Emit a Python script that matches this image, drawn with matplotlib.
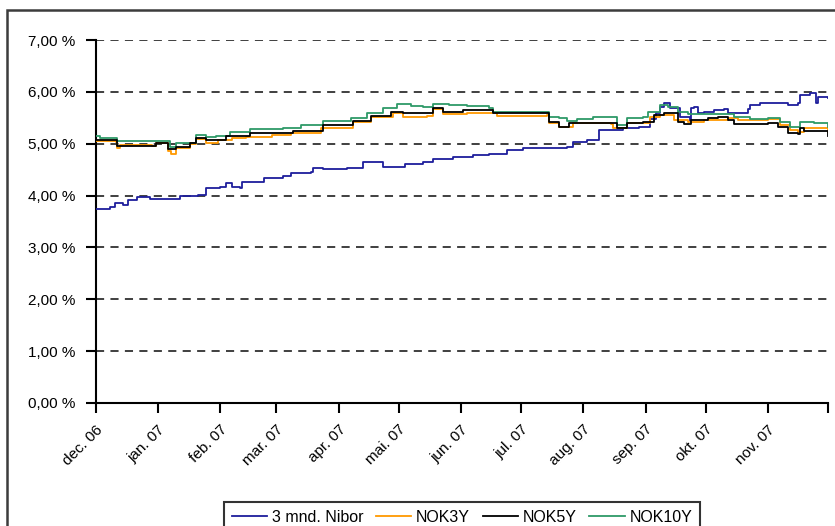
import datetime as dt
import matplotlib
matplotlib.use("Agg")
import matplotlib.pyplot as plt
from matplotlib.patches import Rectangle

plt.rcParams['font.family'] = ['Liberation Sans', 'DejaVu Sans']

# day offsets from 1 Dec 2006 and rates in %
nibor_days = [0, 7, 9.5, 13, 13.5, 16, 20.5, 26, 27, 38, 42, 51, 55, 62, 65, 68, 72, 73, 82, 84,
              93, 97, 107, 108, 113, 125, 133, 137, 143, 153, 154, 163, 168, 178, 183, 188, 196, 205,
              210, 213, 225, 235, 238, 245, 251, 260, 263, 271, 276, 279, 281, 283, 286, 291, 296,
              296.5, 298, 300, 303, 308, 313, 315, 325, 326, 331, 345, 350, 351, 356, 359, 360, 365]
nibor = [3.74, 3.78, 3.86, 3.86, 3.82, 3.91, 3.97, 3.97, 3.93, 3.93, 3.99, 4.01, 4.15, 4.17, 4.24,
         4.17, 4.15, 4.26, 4.26, 4.34, 4.38, 4.43, 4.45, 4.53, 4.51, 4.53, 4.65, 4.65, 4.55, 4.55,
         4.61, 4.65, 4.70, 4.74, 4.74, 4.78, 4.80, 4.88, 4.88, 4.92, 4.92, 4.94, 5.03, 5.07, 5.26,
         5.26, 5.30, 5.32, 5.48, 5.60, 5.71, 5.78, 5.69, 5.51, 5.44, 5.69, 5.71, 5.59, 5.61, 5.65,
         5.67, 5.59, 5.67, 5.75, 5.78, 5.75, 5.78, 5.94, 5.98, 5.78, 5.90, 5.88]

nok3_days = [0, 10, 10.5, 12, 28, 30, 36, 37.5, 40, 47, 50, 55, 61, 68, 75, 88, 97, 112, 128, 137,
             148, 153, 165, 168, 173, 185, 200, 225, 226, 231, 238, 257, 258, 265, 276, 281, 288,
             295, 303, 315, 320, 335, 341, 346, 350, 353, 361, 365]
nok3 = [5.05, 5.03, 4.92, 4.98, 4.96, 5.01, 4.86, 4.80, 4.92, 4.99, 5.09, 5.01, 5.07, 5.11, 5.13,
        5.17, 5.21, 5.30, 5.42, 5.51, 5.59, 5.51, 5.53, 5.67, 5.57, 5.59, 5.53, 5.55, 5.40, 5.32,
        5.40, 5.38, 5.30, 5.40, 5.51, 5.55, 5.46, 5.42, 5.46, 5.50, 5.46, 5.48, 5.36, 5.26, 5.23,
        5.30, 5.30, 5.23]

nok5_days = [0, 10.5, 28, 30, 36, 38, 40, 47, 50, 55, 65, 77, 93, 98, 113, 128, 137, 147, 153, 166,
             168, 173, 183, 198, 225, 226, 231, 236, 255, 260, 265, 273, 278, 283, 290, 293, 296.5,
             305, 310, 315, 318, 335, 340, 345, 350, 351, 353, 361, 365]
nok5 = [5.07, 4.96, 4.96, 5.01, 4.90, 4.90, 4.94, 5.01, 5.11, 5.07, 5.15, 5.21, 5.21, 5.25, 5.36,
        5.44, 5.53, 5.61, 5.59, 5.59, 5.69, 5.61, 5.65, 5.59, 5.59, 5.42, 5.32, 5.40, 5.40, 5.30,
        5.40, 5.42, 5.55, 5.59, 5.42, 5.38, 5.46, 5.50, 5.51, 5.46, 5.38, 5.40, 5.32, 5.21, 5.19,
        5.30, 5.25, 5.25, 5.15]

nok10_days = [0, 2, 9.5, 10.5, 30, 37, 40, 47, 50, 55, 60, 67, 77, 83, 93, 102, 113, 127, 135, 143,
              150, 157, 163, 168, 176, 185, 196, 198, 225, 226, 231, 235, 240, 248, 255, 260, 265,
              273, 275, 281, 285, 290, 295, 315, 318, 326, 335, 341, 346, 350, 351, 358, 365]
nok10 = [5.15, 5.11, 5.11, 5.05, 5.05, 4.94, 5.01, 5.01, 5.17, 5.13, 5.15, 5.23, 5.28, 5.28, 5.30,
         5.36, 5.44, 5.50, 5.59, 5.69, 5.77, 5.73, 5.71, 5.77, 5.75, 5.73, 5.69, 5.61, 5.61, 5.51,
         5.50, 5.44, 5.48, 5.51, 5.51, 5.36, 5.50, 5.51, 5.61, 5.75, 5.71, 5.61, 5.57, 5.57, 5.51,
         5.48, 5.50, 5.42, 5.32, 5.32, 5.42, 5.40, 5.32]

month_labels = ['dec. 06', 'jan. 07', 'feb. 07', 'mar. 07', 'apr. 07', 'mai. 07', 'jun. 07',
                'jul. 07', 'aug. 07', 'sep. 07', 'okt. 07', 'nov. 07', '']
y_labels = ['0,00 %', '1,00 %', '2,00 %', '3,00 %', '4,00 %', '5,00 %', '6,00 %', '7,00 %']


def to_dates(days):
    return [dt.datetime(2006, 12, 1) + dt.timedelta(days=d) for d in days]


fig = plt.figure(figsize=(8.35, 5.26), dpi=100)
ax = fig.add_axes([96/835, 1-403/526, 732/835, 363/526])

# outer frame of the original chart object
fig.patches.append(Rectangle((7/835, -0.2), 1.2, 1-10/526+0.2, transform=fig.transFigure,
                             fill=False, edgecolor='#3c3c3c', lw=1.8))

for yv in range(1, 8):
    ax.axhline(yv, color='#303030', lw=1.3, ls=(0, (4.5, 3.5)), zorder=1)

ax.plot(to_dates(nibor_days), nibor, color='#1e1e9c', lw=1.3, label='3 mnd. Nibor', drawstyle='steps-post', zorder=3)
ax.plot(to_dates(nok3_days), nok3, color='#ff9900', lw=1.3, label='NOK3Y', drawstyle='steps-post', zorder=3)
ax.plot(to_dates(nok5_days), nok5, color='#000000', lw=1.3, label='NOK5Y', drawstyle='steps-post', zorder=4)
ax.plot(to_dates(nok10_days), nok10, color='#2e9a68', lw=1.3, label='NOK10Y', drawstyle='steps-post', zorder=3)

ax.set_ylim(0, 7)
ax.set_xlim(dt.datetime(2006, 12, 1), dt.datetime(2007, 12, 1))
ax.set_yticks(range(8))
ax.set_yticklabels(y_labels)
ticks = [dt.datetime(2006, 12, 1)] + [dt.datetime(2007, m, 1) for m in range(1, 13)]
ax.set_xticks(ticks)
ax.set_xticklabels(month_labels, rotation=45, ha='right', rotation_mode='anchor')

for s in ['top', 'right']:
    ax.spines[s].set_visible(False)
for s in ['left', 'bottom']:
    ax.spines[s].set_linewidth(1.5)
ax.tick_params(axis='both', direction='out', length=7, width=1.5, labelsize=11, pad=8)
ax.tick_params(axis='x', pad=7)

leg = fig.legend(loc='upper center', bbox_to_anchor=(462/835, 1-494/526), ncol=4, frameon=True,
                 fancybox=False, edgecolor='black', fontsize=11.5, handlelength=2.2,
                 handletextpad=0.3, columnspacing=0.8, borderpad=0.5)
leg.get_frame().set_linewidth(1.5)

fig.savefig('out.png', dpi=100)
